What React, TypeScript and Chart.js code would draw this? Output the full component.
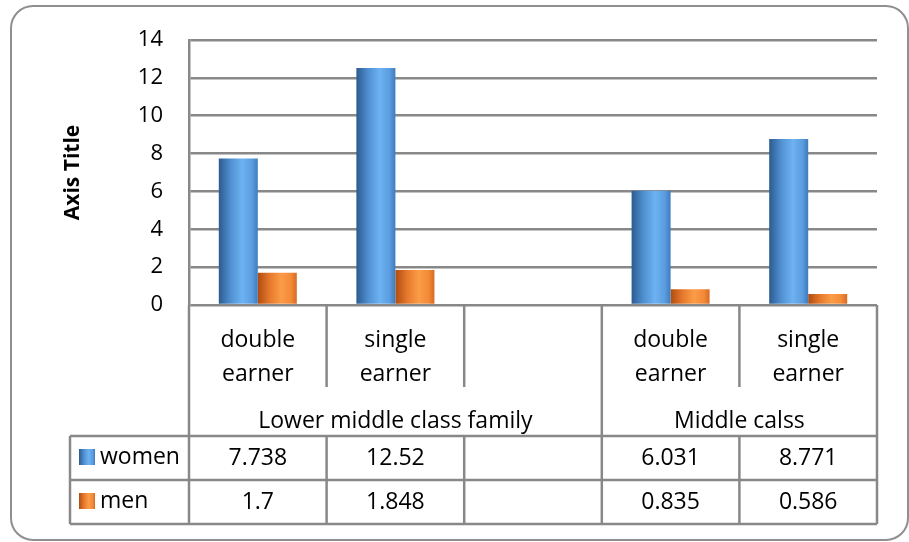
import React, { useEffect, useRef } from "react";
import { Chart, registerables } from "chart.js";

Chart.register(...registerables);

// Category columns (third column is an empty spacer between the two groups)
const categories: string[] = ["double earner", "single earner", "", "double earner", "single earner"];
const groupLabels: string[] = ["Lower middle class family", "Middle calss"];
const groupSpans: number[][] = [[0, 3], [3, 5]];
const seriesNames: string[] = ["women", "men"];
const women: (number | null)[] = [7.738, 12.52, null, 6.031, 8.771];
const men: (number | null)[] = [1.7, 1.848, null, 0.835, 0.586];
const yMax = 14;
const yStep = 2;

const FONT = "'Open Sans', 'DejaVu Sans', sans-serif";
const LINE = "#888888";

const palettes = [
  ["#2c5b8f", "#4f8fd0", "#6db2f2", "#5b9ddf", "#3f7bbd"],
  ["#b04c10", "#e5782c", "#fc9c48", "#f38a38", "#d86a22"],
];

function makeGradient(ctx: CanvasRenderingContext2D, left: number, w: number, stops: string[]) {
  const g = ctx.createLinearGradient(left, 0, left + w, 0);
  g.addColorStop(0, stops[0]);
  g.addColorStop(0.3, stops[1]);
  g.addColorStop(0.6, stops[2]);
  g.addColorStop(0.85, stops[3]);
  g.addColorStop(1, stops[4]);
  return g;
}

const frameAndTable = {
  id: "frameAndTable",
  beforeDraw(chart: any) {
    const { ctx, width, height } = chart;
    ctx.save();
    ctx.fillStyle = "#ffffff";
    ctx.fillRect(0, 0, width, height);
    ctx.strokeStyle = "#8f8f8f";
    ctx.lineWidth = 2;
    ctx.beginPath();
    ctx.roundRect(11, 6, 897, 534, 22);
    ctx.stroke();
    ctx.restore();
  },
  beforeDatasetsDraw(chart: any) {
    const ctx = chart.ctx;
    chart.data.datasets.forEach((_: any, di: number) => {
      const meta = chart.getDatasetMeta(di);
      meta.data.forEach((el: any) => {
        const { x, width } = el.getProps(["x", "width"], true);
        if (!isFinite(x) || !isFinite(width)) return;
        el.options.backgroundColor = makeGradient(ctx, x - width / 2, width, palettes[di]);
      });
    });
  },
  afterDraw(chart: any) {
    const { ctx, chartArea: ca } = chart;
    const n = categories.length;
    const slot = (ca.right - ca.left) / n;
    const edge = (i: number) => ca.left + i * slot;
    const mid = (i: number) => ca.left + (i + 0.5) * slot;

    const catBottom = ca.bottom + 82;
    const groupBottom = ca.bottom + 131;
    const rowH = 44;
    const tableLeft = 70;
    const rowTops = [groupBottom, groupBottom + rowH];
    const tableBottom = groupBottom + 2 * rowH;

    ctx.save();
    ctx.strokeStyle = LINE;
    ctx.lineWidth = 2.5;
    const line = (x1: number, y1: number, x2: number, y2: number) => {
      ctx.beginPath();
      ctx.moveTo(x1, y1);
      ctx.lineTo(x2, y2);
      ctx.stroke();
    };

    // outer vertical borders and group separators
    const groupEdges = new Set<number>([0, n]);
    groupSpans.forEach((s) => { groupEdges.add(s[0]); groupEdges.add(s[1]); });
    for (let i = 0; i <= n; i++) {
      if (groupEdges.has(i)) {
        line(edge(i), ca.bottom, edge(i), tableBottom);
      } else {
        line(edge(i), ca.bottom, edge(i), catBottom);
        line(edge(i), groupBottom, edge(i), tableBottom);
      }
    }
    // data table rows
    line(tableLeft, groupBottom, ca.right, groupBottom);
    line(tableLeft, groupBottom + rowH, ca.right, groupBottom + rowH);
    line(tableLeft, tableBottom, ca.right, tableBottom);
    line(tableLeft, groupBottom, tableLeft, tableBottom);

    ctx.fillStyle = "#000";
    ctx.font = `23px ${FONT}`;
    ctx.textAlign = "center";
    ctx.textBaseline = "alphabetic";

    // category labels (two lines)
    categories.forEach((c, i) => {
      if (!c) return;
      const parts = c.split(" ");
      parts.forEach((p, k) => ctx.fillText(p, mid(i), ca.bottom + 42 + k * 34));
    });

    // group labels
    groupSpans.forEach((s, gi) => {
      const cx = (edge(s[0]) + edge(s[1])) / 2;
      ctx.fillText(groupLabels[gi], cx, ca.bottom + 123);
    });

    // data values + legend keys
    const series = [women, men];
    series.forEach((vals, si) => {
      const top = rowTops[si];
      vals.forEach((v, i) => {
        if (v === null) return;
        ctx.fillText(String(v), mid(i), top + 29);
      });
      const keyY = top + 13;
      ctx.fillStyle = makeGradient(ctx, 79, 16, palettes[si]);
      ctx.fillRect(79, keyY, 16, 16);
      ctx.fillStyle = "#000";
      ctx.textAlign = "left";
      ctx.fillText(seriesNames[si], 100, top + 28);
      ctx.textAlign = "center";
    });
    ctx.restore();
  },
};

export default function App() {
  const ref = useRef<HTMLCanvasElement | null>(null);

  useEffect(() => {
    if (!ref.current) return;
    Chart.defaults.font.family = FONT;
    const chart = new Chart(ref.current, {
      type: "bar",
      data: {
        labels: categories,
        datasets: [
          { label: seriesNames[0], data: women, backgroundColor: () => "#4f81bd", categoryPercentage: 0.567, barPercentage: 1 },
          { label: seriesNames[1], data: men, backgroundColor: () => "#f79646", categoryPercentage: 0.567, barPercentage: 1 },
        ],
      },
      options: {
        responsive: false,
        animation: false,
        events: [],
        layout: { padding: { left: 0, top: 40, right: 32, bottom: 237 } },
        plugins: { legend: { display: false }, tooltip: { enabled: false } },
        scales: {
          x: { display: false },
          y: {
            min: 0,
            max: yMax,
            ticks: { stepSize: yStep, padding: 26, color: "#000", font: { size: 22, family: FONT } },
            grid: { color: LINE, lineWidth: 2.5, drawTicks: false },
            border: { display: true, color: LINE, width: 2.5 },
            title: {
              display: true,
              text: "Axis Title",
              color: "#000",
              font: { size: 21, weight: "bold", family: FONT },
              padding: { top: 60, bottom: 0 },
            },
            afterFit: (s: any) => { s.width = 189; },
          },
        },
      },
      plugins: [frameAndTable],
    });
    return () => chart.destroy();
  }, []);

  return (
    <div style={{ position: "fixed", left: 0, top: 0, width: 909, height: 542, background: "#fff" }}>
      <canvas ref={ref} width={909} height={542} style={{ display: "block" }} />
    </div>
  );
}
